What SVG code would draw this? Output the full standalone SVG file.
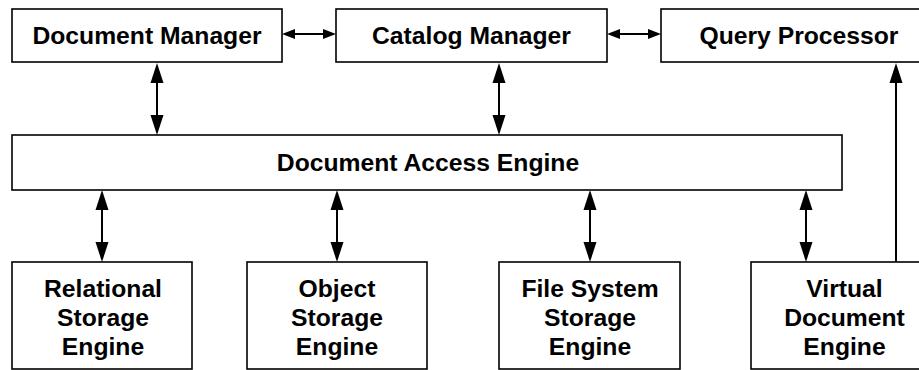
<svg xmlns="http://www.w3.org/2000/svg" width="919" height="370" viewBox="0 0 919 370">
  <style>
    .box { fill: #ffffff; stroke: #000000; stroke-width: 1.6; }
    .lbl { font-family: "Liberation Sans", Arial, Helvetica, sans-serif; font-weight: bold; font-size: 24.7px; fill: #000000; text-anchor: middle; }
    .link { fill: none; stroke: #000000; stroke-width: 2; }
    .v2 { marker-start: url(#headV); marker-end: url(#headV); }
    .h2 { marker-start: url(#headH); marker-end: url(#headH); }
    .v1 { marker-end: url(#headV); }
  </style>
  <defs>
    <!-- arrowheads: base sits on the path end, tip extends beyond it -->
    <marker id="headV" markerUnits="userSpaceOnUse" markerWidth="20" markerHeight="13" refX="0" refY="6.5" orient="auto-start-reverse" overflow="visible">
      <path d="M0,0 L20,6.5 L0,13 Z" fill="#000000"/>
    </marker>
    <marker id="headH" markerUnits="userSpaceOnUse" markerWidth="13" markerHeight="10" refX="0" refY="5" orient="auto-start-reverse" overflow="visible">
      <path d="M0,0 L13,5 L0,10 Z" fill="#000000"/>
    </marker>
  </defs>

  <rect width="919" height="370" fill="#ffffff"/>

  <!-- top row -->
  <g id="document-manager">
    <rect class="box" x="12" y="9" width="270" height="53"/>
    <text class="lbl" x="147" y="44">Document Manager</text>
  </g>
  <g id="catalog-manager">
    <rect class="box" x="336" y="9" width="271" height="53"/>
    <text class="lbl" x="471.5" y="44">Catalog Manager</text>
  </g>
  <g id="query-processor">
    <rect class="box" x="661" y="9" width="276" height="53"/>
    <text class="lbl" x="799" y="44">Query Processor</text>
  </g>

  <!-- middle layer -->
  <g id="document-access-engine">
    <rect class="box" x="12" y="135" width="830" height="55"/>
    <text class="lbl" x="428" y="171">Document Access Engine</text>
  </g>

  <!-- storage engines -->
  <g id="relational-storage-engine">
    <rect class="box" x="12" y="262" width="180" height="107"/>
    <text class="lbl" x="103" y="297">Relational</text>
    <text class="lbl" x="103" y="326">Storage</text>
    <text class="lbl" x="103" y="355">Engine</text>
  </g>
  <g id="object-storage-engine">
    <rect class="box" x="247" y="262" width="180" height="107"/>
    <text class="lbl" x="337" y="297">Object</text>
    <text class="lbl" x="337" y="326">Storage</text>
    <text class="lbl" x="337" y="355">Engine</text>
  </g>
  <g id="file-system-storage-engine">
    <rect class="box" x="499" y="262" width="181" height="107"/>
    <text class="lbl" x="590" y="297">File System</text>
    <text class="lbl" x="590" y="326">Storage</text>
    <text class="lbl" x="590" y="355">Engine</text>
  </g>
  <g id="virtual-document-engine">
    <rect class="box" x="751" y="262" width="187" height="107"/>
    <text class="lbl" x="844.5" y="297">Virtual</text>
    <text class="lbl" x="844.5" y="326">Document</text>
    <text class="lbl" x="844.5" y="355">Engine</text>
  </g>

  <g id="connectors">
    <!-- top row, horizontal two-way links -->
    <path class="link h2" d="M295,34 L323,34"/>
    <path class="link h2" d="M620,34 L648,34"/>
    <!-- managers to access engine -->
    <path class="link v2" d="M157,115 L157,83"/>
    <path class="link v2" d="M499,115 L499,83"/>
    <!-- access engine to storage engines -->
    <path class="link v2" d="M102,242 L102,210"/>
    <path class="link v2" d="M337,242 L337,210"/>
    <path class="link v2" d="M590,242 L590,210"/>
    <path class="link v2" d="M806,242 L806,210"/>
    <!-- virtual document engine up to query processor -->
    <path class="link v1" d="M896,262 L896,83"/>
  </g>
</svg>
